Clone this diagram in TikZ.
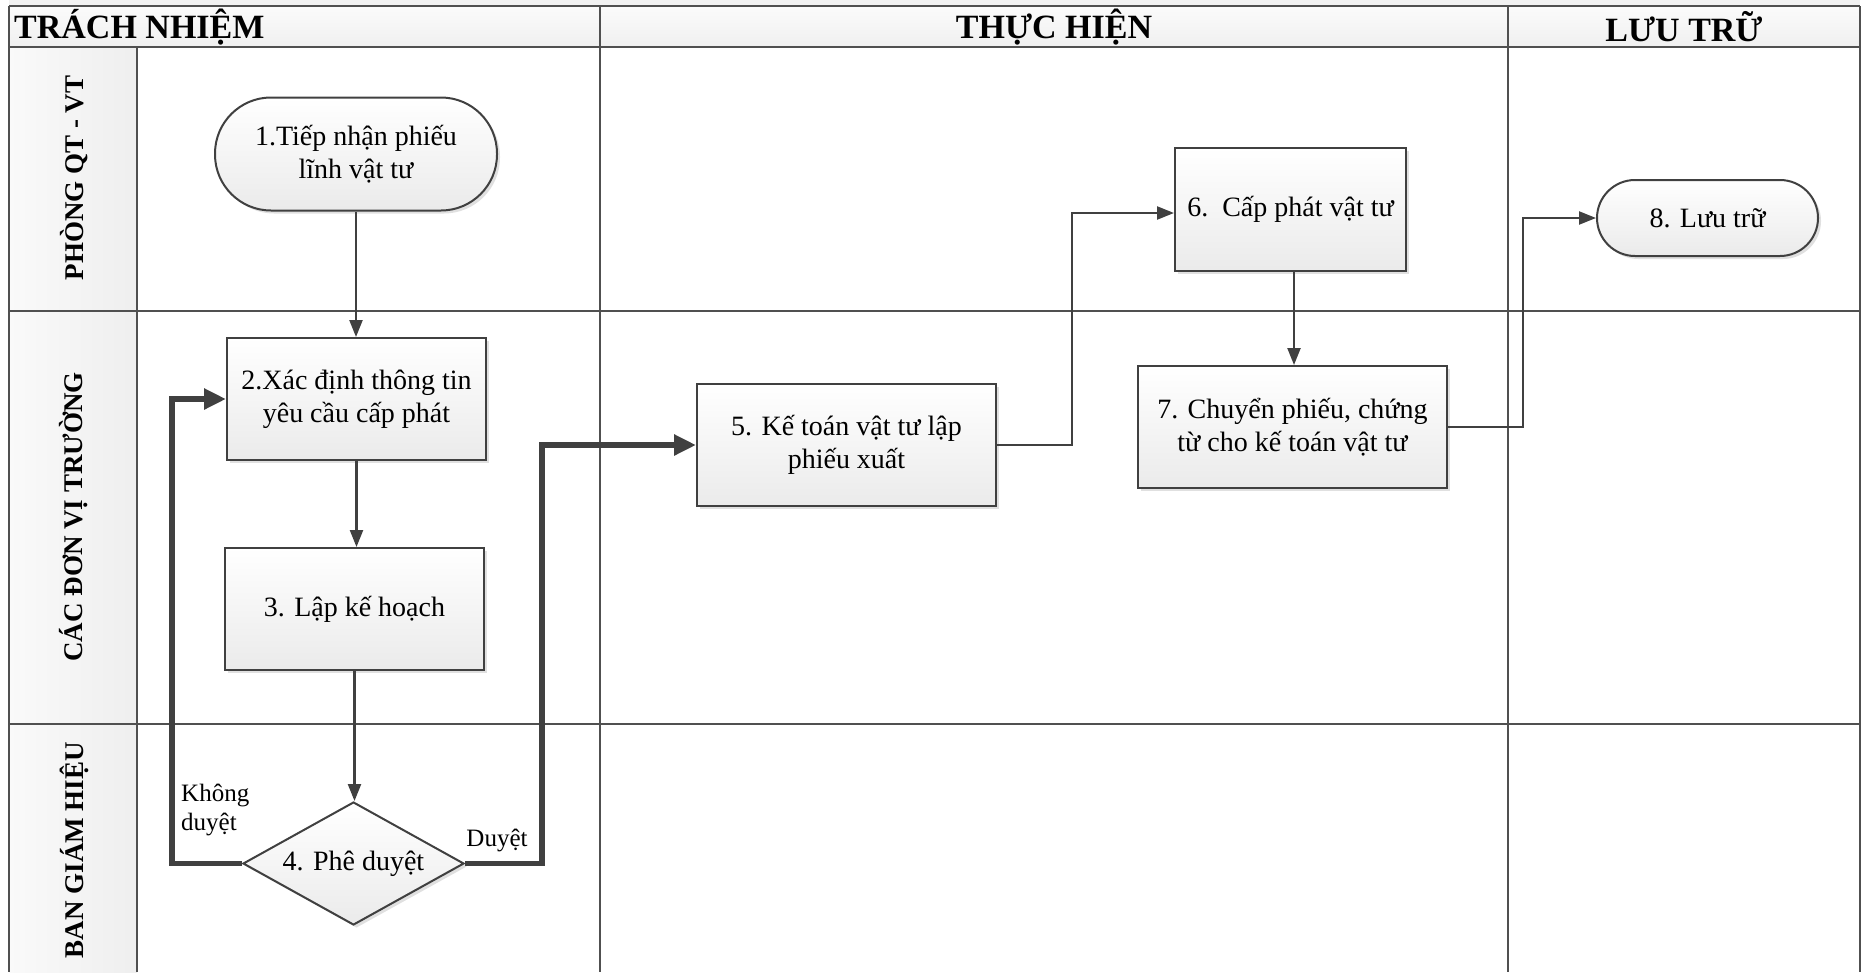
\documentclass[tikz,border=0pt]{standalone}
\usepackage{fontspec}
\setmainfont{Liberation Serif}
\usetikzlibrary{arrows.meta,shapes.geometric,shadows}
\definecolor{ln}{HTML}{404040}
\definecolor{gridc}{HTML}{505050}
\begin{document}
\begin{tikzpicture}[x=1pt,y=-1pt,
  gridline/.style={draw=gridc, line width=2.2pt},
  shade/.style={top color=white, bottom color=gray!16},
  shadowed/.style={drop shadow={shadow xshift=3pt, shadow yshift=-3pt, fill=gray!40, opacity=0.6}},
  boxnode/.style={draw=ln, line width=2pt, shade, shadowed, align=center, inner sep=0pt,
    font=\fontsize{28}{33}\selectfont},
  procbox/.style={boxnode, rectangle},
  termbox/.style={boxnode, rectangle},
  decbox/.style={boxnode, diamond, aspect=1.8},
  thinarrow/.style={draw=ln, line width=2.3pt, -{Triangle[length=17pt,width=13pt]}},
  thickarrow/.style={draw=ln, line width=5.5pt, -{Triangle[length=22pt,width=20pt]}},
  headtext/.style={font=\fontsize{34}{38}\selectfont\bfseries, inner sep=0pt},
  lanetext/.style={font=\fontsize{27}{30}\selectfont\bfseries, inner sep=0pt, rotate=90},
  lbltext/.style={font=\fontsize{25}{29}\selectfont, inner sep=0pt, align=left}
]
\useasboundingbox (0,0) rectangle (1865,972);
% backgrounds
\fill[gray!10] (9,0) rectangle (1860,6);
\shade[top color=gray!3, bottom color=gray!12] (9,6) rectangle (1860,47);
\shade[left color=gray!4, right color=gray!13] (9,47) rectangle (137,972);
% grid
\draw[gridline] (9,6) -- (1860,6);
\draw[gridline] (9,47) -- (1860,47);
\draw[gridline] (9,311) -- (1860,311);
\draw[gridline] (9,724) -- (1860,724);
\draw[gridline] (9,6) -- (9,972);
\draw[gridline] (137,47) -- (137,972);
\draw[gridline] (600,6) -- (600,972);
\draw[gridline] (1508,6) -- (1508,972);
\draw[gridline] (1860,6) -- (1860,972);
% headers
\node[headtext, anchor=west] (hA) at (14,27) {TRÁCH NHIỆM};
\node[headtext] (hB) at (1054,27) {THỰC HIỆN};
\node[headtext] (hC) at (1684,27) {LƯU TRỮ};
% lane labels
\node[lanetext] (l1) at (74,178) {PHÒNG QT - VT};
\node[lanetext] (l2) at (74,517) {CÁC ĐƠN VỊ TRƯỜNG};
\node[lanetext] (l3) at (74,850) {BAN GIÁM HIỆU};
% nodes
\node[termbox, rounded corners=56pt, minimum width=282pt, minimum height=113pt] (n1) at (356,154) {1.Tiếp nhận phiếu\\lĩnh vật tư};
\node[procbox, minimum width=259pt, minimum height=122pt] (n2) at (356.5,399) {2.Xác định thông tin\\yêu cầu cấp phát};
\node[procbox, minimum width=259pt, minimum height=122pt] (n3) at (354.5,609) {3. Lập kế hoạch};
\node[decbox, minimum width=221pt, minimum height=123pt] (n4) at (353.5,863.5) {4. Phê duyệt};
\node[procbox, minimum width=299pt, minimum height=122pt] (n5) at (846.5,445) {5. Kế toán vật tư lập\\phiếu xuất};
\node[procbox, minimum width=231pt, minimum height=123pt] (n6) at (1290.5,209.5) {6.\ \ Cấp phát vật tư};
\node[procbox, minimum width=309pt, minimum height=122pt] (n7) at (1292.5,427) {7. Chuyển phiếu, chứng\\từ cho kế toán vật tư};
\node[termbox, rounded corners=38pt, minimum width=221pt, minimum height=76pt] (n8) at (1707.5,218) {8. Lưu trữ};
% bend coordinates
\coordinate (k) at (172,0);
\coordinate (d) at (542,0);
\coordinate (e) at (1072,0);
\coordinate (f) at (1523,0);
\coordinate (g) at (1294,0);
\coordinate (h) at (0,213);
% connectors
\draw[thinarrow] (n1.south) -- (n1.south |- n2.north);
\draw[thinarrow] (n2.south) -- (n2.south |- n3.north);
\draw[thinarrow] (n3.south) -- (n3.south |- n4.north);
\draw[thickarrow] (n4.west) -- (n4.west -| k) |- (n2.west);
\draw[thickarrow] (n4.east) -- (n4.east -| d) |- (n5.west);
\draw[thinarrow] (n5.east) -- (n5.east -| e) |- (n6.west |- h);
\draw[thinarrow] (n6.south -| g) -- (n7.north -| g);
\draw[thinarrow] (n7.east) -- (n7.east -| f) |- (n8.west);
% labels
\node[lbltext, anchor=north west] (lk) at (181,784) {Không\\duyệt};
\node[lbltext] (ld) at (497,840) {Duyệt};
\end{tikzpicture}
\end{document}
